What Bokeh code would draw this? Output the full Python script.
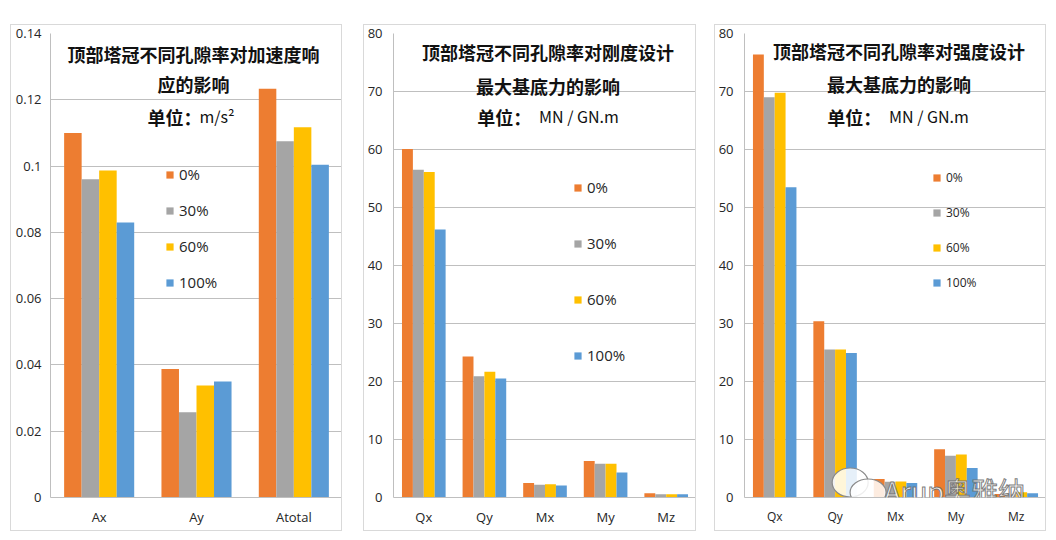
from bokeh.plotting import figure
from bokeh.layouts import row
from bokeh.models import (FactorRange, Range1d, FixedTicker, NumeralTickFormatter,
                          Legend, LegendItem, Label, ColumnDataSource)
from bokeh.transform import dodge
from bokeh.embed import file_html
from bokeh.resources import INLINE

# ---------------- data ----------------
series = ["0%", "30%", "60%", "100%"]
colors = ["#ED7D31", "#A5A5A5", "#FFC000", "#5B9BD5"]

acc_cats = ["Ax", "Ay", "Atotal"]
acc_0 = [0.110, 0.0388, 0.1233]
acc_30 = [0.096, 0.0257, 0.1075]
acc_60 = [0.0987, 0.0338, 0.1117]
acc_100 = [0.083, 0.035, 0.1004]

force_cats = ["Qx", "Qy", "Mx", "My", "Mz"]
stiff_0 = [60.1, 24.3, 2.5, 6.3, 0.74]
stiff_30 = [56.5, 20.9, 2.2, 5.8, 0.55]
stiff_60 = [56.1, 21.7, 2.3, 5.8, 0.55]
stiff_100 = [46.2, 20.5, 2.05, 4.3, 0.55]

str_0 = [76.4, 30.4, 3.2, 8.3, 0.6]
str_30 = [69.0, 25.5, 2.7, 7.2, 0.55]
str_60 = [69.8, 25.5, 2.75, 7.4, 0.9]
str_100 = [53.5, 24.9, 2.5, 5.1, 0.74]

acc_ticks = [0, 0.02, 0.04, 0.06, 0.08, 0.1, 0.12, 0.14]
force_ticks = [0, 10, 20, 30, 40, 50, 60, 70, 80]

title1 = ["顶部塔冠不同孔隙率对加速度响", "应的影响"]
title2 = ["顶部塔冠不同孔隙率对刚度设计", "最大基底力的影响"]
title3 = ["顶部塔冠不同孔隙率对强度设计", "最大基底力的影响"]
unit_label = "单位："
unit1 = "m/s²"
unit2 = "MN / GN.m"
watermark = "Arup奥雅纳"

CJK = "Noto Sans CJK SC"
LAT = "Open Sans"

FRAME_TOP = 33
FRAME_BOTTOM = 497


def make_panel(cats, vals, y_end, ticks, fmt, canvas_left, frame_left, frame_right,
               margin_left, titles, title_cx, t_y, unit_text, unit_x, unit_gap, leg_loc,
               leg_spacing, leg_font, y_standoff, tick_font="13px", cat_font="13px"):
    src = ColumnDataSource(dict(cat=cats, **{f"s{i}": v for i, v in enumerate(vals)}))
    width = frame_right - canvas_left + 1
    p = figure(x_range=FactorRange(*cats, range_padding=0), y_range=Range1d(0, y_end),
               width=width, height=507, output_backend="svg", toolbar_location=None,
               min_border_left=frame_left - canvas_left, min_border_right=1,
               min_border_top=FRAME_TOP - 25, min_border_bottom=35,
               margin=(24, 0, 0, margin_left),
               styles={"border": "1px solid #d9d9d9"})
    p.outline_line_color = None
    p.xgrid.grid_line_color = None
    p.ygrid.grid_line_color = "#bfbfbf"
    p.yaxis.ticker = FixedTicker(ticks=ticks)
    p.yaxis.formatter = NumeralTickFormatter(format=fmt)
    for ax in (p.xaxis, p.yaxis):
        ax.major_tick_line_color = None
        ax.minor_tick_line_color = None
        ax.major_tick_out = 0
        ax.major_tick_in = 0
        ax.minor_tick_out = 0
        ax.minor_tick_in = 0
        ax.axis_line_color = "#bfbfbf"
        ax.major_label_text_font = LAT
        ax.major_label_text_color = "#262626"
    p.yaxis.major_label_text_font_size = tick_font
    p.xaxis.major_label_text_font_size = cat_font
    p.yaxis.major_label_standoff = y_standoff
    p.xaxis.major_label_standoff = 10

    offsets = [-0.27, -0.09, 0.09, 0.27]
    renderers = []
    for i, (s, c) in enumerate(zip(series, colors)):
        r = p.vbar(x=dodge("cat", offsets[i], range=p.x_range), top=f"s{i}", width=0.18,
                   source=src, fill_color=c, line_color=None)
        renderers.append(r)

    legend = Legend(items=[LegendItem(label=s, renderers=[r]) for s, r in zip(series, renderers)],
                    location=leg_loc, glyph_width=9, glyph_height=9, label_height=20,
                    spacing=leg_spacing, padding=0, margin=0, label_standoff=5,
                    label_text_font=LAT, label_text_font_size=leg_font,
                    label_text_color="#262626",
                    background_fill_alpha=0, border_line_alpha=0)
    p.add_layout(legend)

    n = len(cats)
    fw = frame_right - frame_left

    def px_x(px):
        return (px - frame_left) / fw * n

    def px_y(py):
        return y_end * (FRAME_BOTTOM - py) / (FRAME_BOTTOM - FRAME_TOP)

    for line, ty in zip(titles, t_y):
        p.add_layout(Label(x=px_x(title_cx), y=px_y(ty), text=line, text_align="center",
                           text_baseline="middle", text_font=CJK, text_font_size="18px",
                           text_font_style="bold", text_color="#111111"))
    p.add_layout(Label(x=px_x(unit_x), y=px_y(116), text=unit_label, text_align="left",
                       text_baseline="middle", text_font=CJK, text_font_size="18px",
                       text_font_style="bold", text_color="#111111"))
    p.add_layout(Label(x=px_x(unit_x + 54 + unit_gap), y=px_y(115), text=unit_text,
                       text_align="left", text_baseline="middle", text_font=CJK,
                       text_font_size="16px", text_color="#111111"))
    return p, px_x, px_y


p1, _, _ = make_panel(acc_cats, [acc_0, acc_30, acc_60, acc_100], 0.14, acc_ticks, "0.[00]",
                      11, 50, 342, 10, title1, 193, [53, 83], unit1, 147, -2,
                      (115, 205), 16, "15px", 9)
p2, _, _ = make_panel(force_cats, [stiff_0, stiff_30, stiff_60, stiff_100], 80, force_ticks, "0",
                      365, 393, 697, 21, title2, 548, [51, 85], unit2, 477, 8,
                      (180, 132), 36, "15px", 11)
p3, px_x3, px_y3 = make_panel(force_cats, [str_0, str_30, str_60, str_100], 80, force_ticks, "0",
                              717, 745, 1048, 18, title3, 900, [50, 83], unit2, 828, 8,
                              (188, 205), 15, "12px", 11, cat_font="12px")

# watermark
p3.ellipse(x=[px_x3(851), px_x3(869)], y=[px_y3(482), px_y3(492)], width=[36, 36],
           height=[29, 27], width_units="screen", height_units="screen",
           fill_color="white", fill_alpha=0.85, line_color="#8a8a8a", line_width=1.2)
p3.add_layout(Label(x=px_x3(885), y=px_y3(490), text=watermark, text_align="left",
                    text_baseline="middle", text_font=CJK, text_font_size="27px",
                    text_color="white", text_alpha=0.9, text_outline_color="#6f6f6f",
                    level="overlay"))

layout = row(p1, p2, p3)
open("out.html", "w").write(file_html(layout, INLINE))
